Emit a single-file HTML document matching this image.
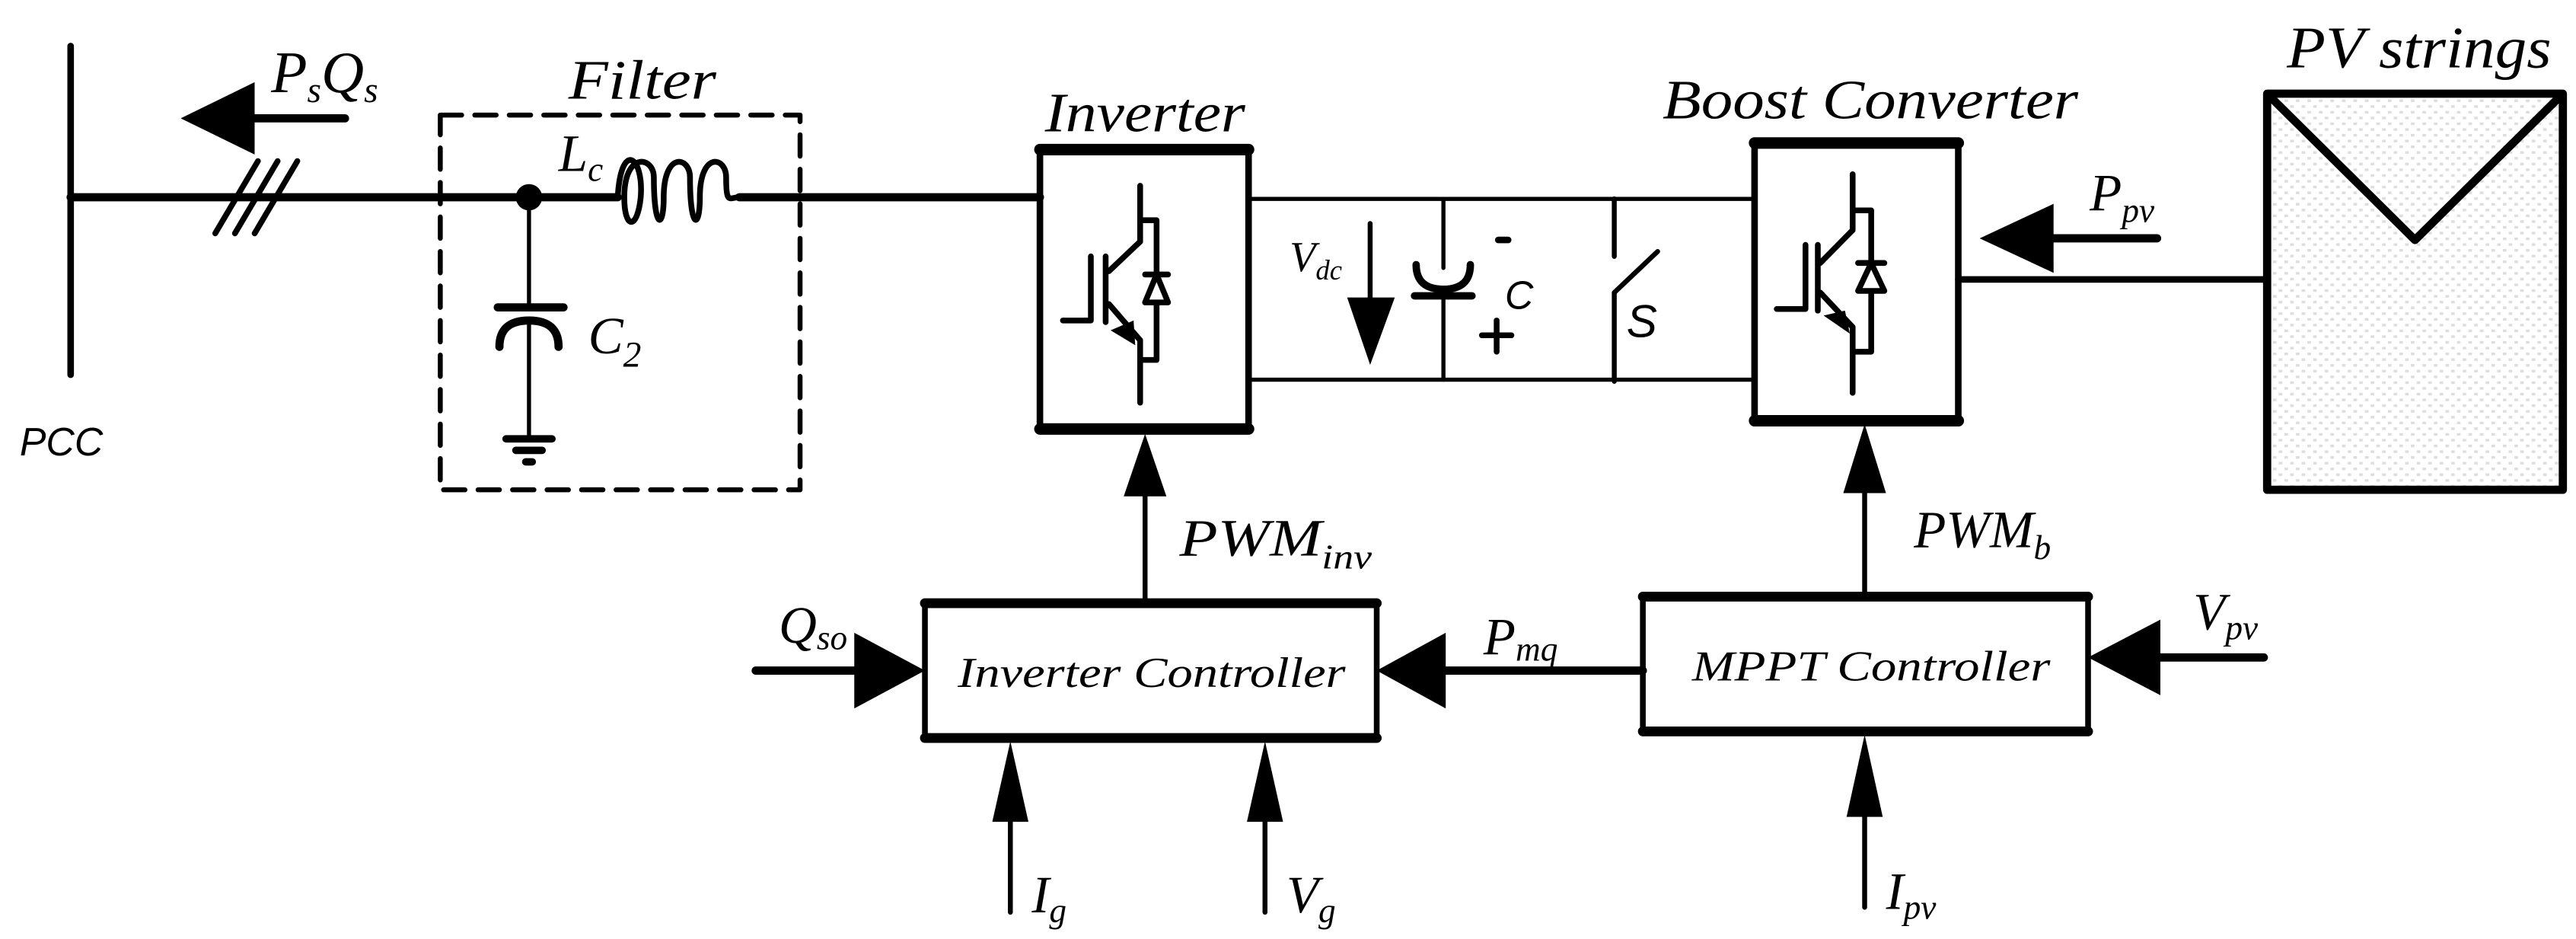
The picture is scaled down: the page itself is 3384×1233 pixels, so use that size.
<!DOCTYPE html>
<html><head><meta charset="utf-8"><style>
html,body{margin:0;padding:0;background:#fff;}
svg{display:block;}
text{font-family:"Liberation Serif",serif;font-style:italic;fill:#000;}
.s{font-family:"Liberation Sans",sans-serif;}
</style></head><body>
<svg width="3384" height="1233" viewBox="0 0 1568 571.3" preserveAspectRatio="none" xmlns="http://www.w3.org/2000/svg">
<defs>
<pattern id="dots" width="7" height="7" patternUnits="userSpaceOnUse">
<rect x="1" y="1" width="2.2" height="1.6" fill="#ddd"/>
<rect x="4.5" y="4.5" width="2.2" height="1.6" fill="#ddd"/>
</pattern>
</defs>
<g stroke="#000" fill="none" stroke-linecap="round" stroke-linejoin="round">
<line x1="43" y1="28" x2="43" y2="228" stroke-width="4"/>
<line x1="43" y1="120" x2="376" y2="120" stroke-width="5"/>
<line x1="450" y1="120" x2="633" y2="120" stroke-width="5"/>
<line x1="131" y1="142" x2="157" y2="98" stroke-width="3.5"/>
<line x1="143" y1="142" x2="169" y2="98" stroke-width="3.5"/>
<line x1="155" y1="142" x2="181" y2="98" stroke-width="3.5"/>
<line x1="147" y1="72" x2="210" y2="72" stroke-width="5"/>
<rect x="268" y="70" width="219" height="228" stroke-width="3" stroke-dasharray="13,8"/>
<path d="M376 120 C378 85,392 95,390 120 C388 140,380 140,380 120 C380 92,398 95,398 108 C398 140,404 140,404 120 C404 92,420 95,420 108 C420 140,426 140,426 120 C426 92,442 95,442 108 C442 125,444 120,450 120" stroke-width="3.5"/>
<line x1="322" y1="120" x2="322" y2="187" stroke-width="2.5"/>
<line x1="303" y1="187" x2="343" y2="187" stroke-width="5"/>
<path d="M304 211 Q304 195 322 195 Q340 195 340 211" stroke-width="5"/>
<line x1="322" y1="195" x2="322" y2="267" stroke-width="2.5"/>
<line x1="308" y1="267" x2="336" y2="267" stroke-width="4.5"/>
<line x1="314" y1="274" x2="330" y2="274" stroke-width="4.5"/>
<line x1="320" y1="281" x2="324" y2="281" stroke-width="4.5"/>
<rect x="633" y="90" width="127" height="172" stroke-width="4"/>
<line x1="633" y1="91" x2="760" y2="91" stroke-width="7"/>
<line x1="633" y1="261" x2="760" y2="261" stroke-width="7"/>
<g stroke-width="3.5">
<line x1="694" y1="113" x2="694" y2="147"/>
<line x1="694" y1="147" x2="675" y2="165"/>
<line x1="673" y1="156" x2="673" y2="196"/>
<polyline points="664,156 664,195 647,195"/>
<line x1="675" y1="185" x2="694" y2="207"/>
<line x1="694" y1="207" x2="694" y2="245"/>
<polyline points="694,134 704,134 704,219 694,219"/>
<line x1="697" y1="167" x2="711" y2="167"/>
</g>
<polygon points="704,167 697,184 711,184" fill="#fff" stroke-width="3.5"/>
<polygon points="690,195 676,201 691,210" fill="#000" stroke="none"/>
<line x1="760" y1="121" x2="1068" y2="121" stroke-width="2.5"/>
<line x1="760" y1="231" x2="1068" y2="231" stroke-width="2.5"/>
<line x1="834" y1="136" x2="834" y2="185" stroke-width="3"/>
<line x1="878.6" y1="121" x2="878.6" y2="163" stroke-width="2.5"/>
<path d="M862 161 Q862 176 878.6 176 Q895 176 895 161" stroke-width="4.5"/>
<line x1="861" y1="180" x2="896" y2="180" stroke-width="4.5"/>
<line x1="878.6" y1="180" x2="878.6" y2="231" stroke-width="2.5"/>
<line x1="912" y1="146" x2="918" y2="146" stroke-width="4"/>
<line x1="902" y1="204" x2="920" y2="204" stroke-width="3.5"/>
<line x1="911" y1="195" x2="911" y2="214" stroke-width="3.5"/>
<line x1="982.6" y1="121" x2="982.6" y2="156" stroke-width="3"/>
<line x1="1009" y1="153" x2="982.6" y2="178" stroke-width="3"/>
<line x1="982.6" y1="178" x2="982.6" y2="232" stroke-width="3"/>
<rect x="1068" y="86" width="124" height="171" stroke-width="4"/>
<line x1="1068" y1="87" x2="1192" y2="87" stroke-width="7"/>
<line x1="1068" y1="256" x2="1192" y2="256" stroke-width="7"/>
<g stroke-width="3.5">
<line x1="1127.7" y1="106" x2="1127.7" y2="140"/>
<line x1="1127.7" y1="140" x2="1108" y2="160"/>
<line x1="1106.5" y1="149" x2="1106.5" y2="189"/>
<polyline points="1099,149 1099,188 1081.5,188"/>
<line x1="1108" y1="178" x2="1127.7" y2="199"/>
<line x1="1127.7" y1="199" x2="1127.7" y2="239"/>
<polyline points="1127.7,128 1139,128 1139,214 1127.7,214"/>
<line x1="1131" y1="160" x2="1147" y2="160"/>
</g>
<polygon points="1139,160 1131,177 1147,177" fill="#fff" stroke-width="3.5"/>
<polygon points="1123,189 1110,192 1126,203" fill="#000" stroke="none"/>
<line x1="1192" y1="170" x2="1380" y2="170" stroke-width="4"/>
<rect x="1380" y="57" width="180" height="241" fill="url(#dots)" stroke-width="5"/>
<polyline points="1382,59 1470,146 1558,59" stroke-width="5"/>
<line x1="1250" y1="145" x2="1313" y2="145" stroke-width="5"/>
<rect x="563" y="366" width="275" height="84" stroke-width="3.5"/>
<line x1="563" y1="367" x2="838" y2="367" stroke-width="6"/>
<line x1="563" y1="449" x2="838" y2="449" stroke-width="6"/>
<rect x="1000" y="362" width="271" height="84" stroke-width="3.5"/>
<line x1="1000" y1="363" x2="1271" y2="363" stroke-width="6"/>
<line x1="1000" y1="445" x2="1271" y2="445" stroke-width="6"/>
<line x1="697" y1="300" x2="697" y2="366" stroke-width="3"/>
<line x1="1135" y1="300" x2="1135" y2="362" stroke-width="3"/>
<line x1="460" y1="408" x2="520" y2="408" stroke-width="5"/>
<line x1="880" y1="408" x2="1000" y2="408" stroke-width="5"/>
<line x1="1315" y1="400" x2="1378" y2="400" stroke-width="5"/>
<line x1="615" y1="500" x2="615" y2="555" stroke-width="3"/>
<line x1="770" y1="500" x2="770" y2="555" stroke-width="3"/>
<line x1="1135" y1="496" x2="1135" y2="552" stroke-width="3"/>
</g>
<g fill="#000">
<polygon points="110,72 155,50 155,94"/>
<polygon points="834,222 820,181 849,181"/>
<polygon points="1205,145 1250,124 1250,166"/>
<polygon points="697,264 684,302 710,302"/>
<polygon points="1135,258 1122,300 1148,300"/>
<polygon points="563,408 520,385 520,431"/>
<polygon points="838,408 880,385 880,431"/>
<polygon points="1271,400 1315,377 1315,423"/>
<polygon points="615,451 604,500 626,500"/>
<polygon points="770,451 759,500 781,500"/>
<polygon points="1135,447 1124,497 1146,497"/>
<circle cx="322" cy="120" r="8"/>
</g>
<text x="165" y="56" font-size="36">P<tspan font-size="22" dy="6">s</tspan><tspan dy="-6">Q</tspan><tspan font-size="22" dy="6">s</tspan></text>
<text x="346" y="60" font-size="34" textLength="90" lengthAdjust="spacingAndGlyphs">Filter</text>
<text x="340" y="104" font-size="32">L<tspan font-size="21" dy="6">c</tspan></text>
<text x="358" y="215" font-size="32">C<tspan font-size="22" dy="8">2</tspan></text>
<text class="s" x="12" y="277" font-size="24">PCC</text>
<text x="636" y="80" font-size="34" textLength="122" lengthAdjust="spacingAndGlyphs">Inverter</text>
<text x="1012" y="72" font-size="34" textLength="253" lengthAdjust="spacingAndGlyphs">Boost Converter</text>
<text x="1392" y="41" font-size="36" textLength="161" lengthAdjust="spacingAndGlyphs">PV strings</text>
<text x="785" y="165" font-size="26">V<tspan font-size="17" dy="5">dc</tspan></text>
<text class="s" x="916" y="188" font-size="24">C</text>
<text class="s" x="990" y="205" font-size="28">S</text>
<text x="1272" y="128" font-size="32">P<tspan font-size="21" dy="7">pv</tspan></text>
<text x="718" y="338" font-size="32" textLength="117" lengthAdjust="spacingAndGlyphs">PWM<tspan font-size="21" dy="8">inv</tspan></text>
<text x="1165" y="333" font-size="32">PWM<tspan font-size="21" dy="7">b</tspan></text>
<text x="474" y="391" font-size="32">Q<tspan font-size="21" dy="4">so</tspan></text>
<text x="903" y="398" font-size="32">P<tspan font-size="21" dy="4">mq</tspan></text>
<text x="1335" y="383" font-size="32">V<tspan font-size="21" dy="6">pv</tspan></text>
<text x="583" y="418" font-size="26" textLength="236" lengthAdjust="spacingAndGlyphs">Inverter Controller</text>
<text x="1030" y="414" font-size="26" textLength="218" lengthAdjust="spacingAndGlyphs">MPPT Controller</text>
<text x="628" y="555" font-size="32">I<tspan font-size="21" dy="6">g</tspan></text>
<text x="783" y="555" font-size="32">V<tspan font-size="21" dy="6">g</tspan></text>
<text x="1148" y="553" font-size="32">I<tspan font-size="21" dy="6">pv</tspan></text>
</svg>
</body></html>
